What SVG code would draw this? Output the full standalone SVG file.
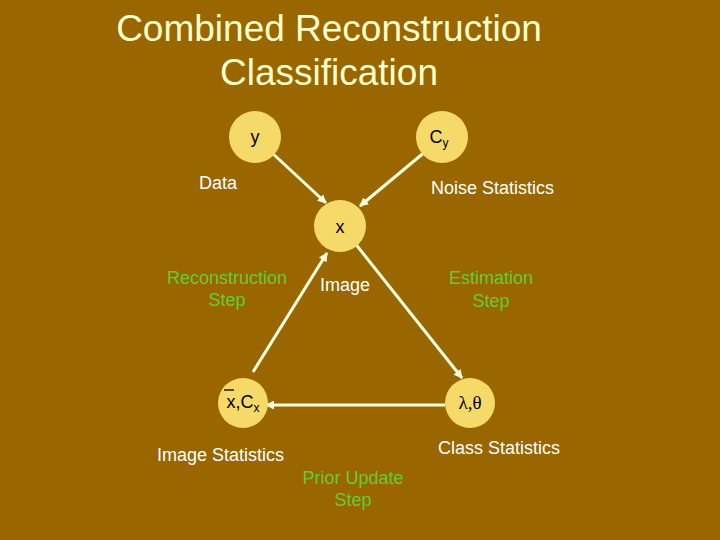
<svg xmlns="http://www.w3.org/2000/svg" width="720" height="540" viewBox="0 0 720 540">
<style>
.title{font-family:"Liberation Sans",Arial,sans-serif;font-size:37px;fill:#FFFFCC;text-anchor:middle}
.lbl{font-family:"Liberation Sans",Arial,sans-serif;font-size:18px;fill:#FFFFFF}
.step{font-family:"Liberation Sans",Arial,sans-serif;font-size:18px;fill:#66CC33;text-anchor:middle}
.node{fill:#F5DA6A}
.nt{font-family:"Liberation Sans",Arial,sans-serif;font-size:18px;fill:#000000;text-anchor:middle}
.sym{font-family:"Liberation Serif","Times New Roman",serif;font-size:19px;fill:#000000;text-anchor:middle}
.edge{stroke:#FFFFDD;stroke-width:3;fill:none;marker-end:url(#ah)}
</style>
<defs>
<marker id="ah" viewBox="0 0 10 10" refX="9" refY="5" markerWidth="3" markerHeight="3" orient="auto" markerUnits="strokeWidth">
<path d="M0,0 L10,5 L0,10 z" fill="#FFFFDD"/>
</marker>
</defs>
<rect width="720" height="540" fill="#996600"/>
<text class="title" x="329" y="41">Combined Reconstruction</text>
<text class="title" x="329" y="85">Classification</text>
<g id="connectors">
<line class="edge" x1="270" y1="151" x2="326" y2="203"/>
<line class="edge" x1="426" y1="151" x2="360" y2="206"/>
<line class="edge" x1="253" y1="372" x2="327" y2="253"/>
<line class="edge" x1="354" y1="242" x2="462" y2="378"/>
<line class="edge" x1="445" y1="405" x2="266" y2="405"/>
</g>
<g id="node-y">
<circle class="node" cx="255" cy="137" r="26"/>
<text class="nt" x="255" y="143">y</text>
</g>
<g id="node-cy">
<circle class="node" cx="442" cy="137" r="26"/>
<text class="nt" x="439" y="143">C<tspan font-size="12" dy="4">y</tspan></text>
</g>
<g id="node-x">
<circle class="node" cx="340" cy="226" r="26"/>
<text class="nt" x="340" y="233">x</text>
</g>
<g id="node-xc">
<circle class="node" cx="243" cy="403" r="25"/>
<text class="nt" x="243" y="408">x,C<tspan font-size="12" dy="4">x</tspan></text>
<line x1="224" y1="390" x2="234" y2="390" stroke="#000" stroke-width="1.3"/>
</g>
<g id="node-lt">
<circle class="node" cx="470" cy="403" r="25"/>
<text class="sym" x="470" y="409">λ,θ</text>
</g>
<g id="labels">
<text class="lbl" x="199" y="189">Data</text>
<text class="lbl" x="431" y="194">Noise Statistics</text>
<text class="lbl" x="320" y="291">Image</text>
<text class="lbl" x="157" y="461">Image Statistics</text>
<text class="lbl" x="438" y="454">Class Statistics</text>
<text class="step" x="227" y="284">Reconstruction</text>
<text class="step" x="227" y="306">Step</text>
<text class="step" x="491" y="284">Estimation</text>
<text class="step" x="491" y="307">Step</text>
<text class="step" x="353" y="484">Prior Update</text>
<text class="step" x="353" y="506">Step</text>
</g>
</svg>
